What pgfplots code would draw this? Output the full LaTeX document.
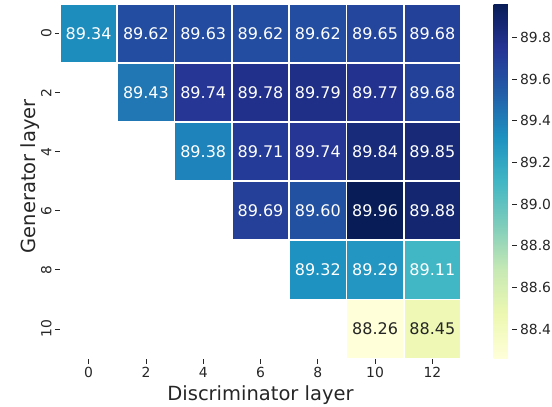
\documentclass[border=0pt]{standalone}
\usepackage{fontspec}
\setmainfont{DejaVu Sans}
\usepackage{pgfplots}
\pgfplotsset{compat=1.18}
\usepackage{pgfplotstable}

\definecolor{ink}{HTML}{262626}

% cell values: discriminator layer (x), generator layer (y), accuracy,
% share of white in the text colour (100 = white, 0 = dark)
\pgfplotstableread{
x  y  c      w
0  0  89.34  100
2  0  89.62  100
4  0  89.63  100
6  0  89.62  100
8  0  89.62  100
10 0  89.65  100
12 0  89.68  100
2  2  89.43  100
4  2  89.74  100
6  2  89.78  100
8  2  89.79  100
10 2  89.77  100
12 2  89.68  100
4  4  89.38  100
6  4  89.71  100
8  4  89.74  100
10 4  89.84  100
12 4  89.85  100
6  6  89.69  100
8  6  89.60  100
10 6  89.96  100
12 6  89.88  100
8  8  89.32  100
10 8  89.29  100
12 8  89.11  100
10 10 88.26  0
12 10 88.45  0
}\cells

% one heatmap cell, 2 x 2 data units
\pgfdeclareplotmark{cell}{%
  \pgfpathrectangle{\pgfpoint{-28.64pt}{-29.54pt}}{\pgfpoint{57.29pt}{59.08pt}}%
  \pgfusepathqfillstroke}

\pgfplotsset{
  colormap={ylgnbu}{rgb255=(255,255,217) rgb255=(237,248,177) rgb255=(199,233,180)
    rgb255=(127,205,187) rgb255=(65,182,196) rgb255=(29,145,192) rgb255=(34,94,168)
    rgb255=(37,52,148) rgb255=(8,29,88)},
}

\begin{document}
\begin{tikzpicture}
\path[use as bounding box] (0,0) rectangle (552pt,407pt);
\begin{axis}[
    at={(60pt,48.5pt)}, anchor=south west,
    scale only axis, width=401pt, height=354.5pt,
    xmin=-1, xmax=13, ymin=-1, ymax=11, y dir=reverse,
    clip=false,
    axis line style={draw=none},
    tick align=outside, major tick length=5pt,
    tick style={draw=ink, line width=0.8pt},
    xtick={0,2,...,12}, ytick={0,2,...,10},
    xtick pos=left, xticklabel pos=left,
    ytick pos=left, yticklabel pos=left,
    /pgf/number format/assume math mode=true,
    ticklabel style={font=\fontsize{13.9}{16}\selectfont, text=ink},
    yticklabel style={rotate=90, anchor=south},
    label style={font=\fontsize{19.5}{23}\selectfont, text=ink},
    xlabel={Discriminator layer},
    xlabel shift=1.5pt,
    ylabel={Generator layer},
    ylabel shift=-5pt,
    every axis y label/.append style={at={(ticklabel cs:0.514)}},
    colormap name=ylgnbu,
    point meta min=88.26, point meta max=89.96,
    colorbar,
    colorbar style={
        at={(parent axis.north east)}, anchor=north west, xshift=24pt,
        scale only axis, width=18pt, height=354.5pt,
        axis line style={draw=none},
        ytick={88.4,88.6,88.8,89.0,89.2,89.4,89.6,89.8},
        tick align=outside, major tick length=5pt,
        tick style={draw=ink, line width=0.8pt},
        ytick pos=right, yticklabel pos=right,
        yticklabel style={font=\fontsize{13.9}{16}\selectfont, text=ink,
            /pgf/number format/.cd, fixed, precision=1, zerofill, assume math mode=true},
    },
]
\addplot[scatter, only marks, mark=cell, point meta=explicit,
    scatter/use mapped color={draw=white, fill=mapped color},
    mark options={line width=1.8pt}]
    table[x=x, y=y, meta=c] {\cells};
\addplot[only marks, mark=none, point meta=explicit symbolic,
    visualization depends on={\thisrow{w} \as \tw},
    nodes near coords, nodes near coords align={center},
    every node near coord/.append style={anchor=center, text=white!\tw!ink,
        font=\fontsize{16}{19}\selectfont}]
    table[x=x, y=y, meta=c] {\cells};
\end{axis}
\end{tikzpicture}
\end{document}
